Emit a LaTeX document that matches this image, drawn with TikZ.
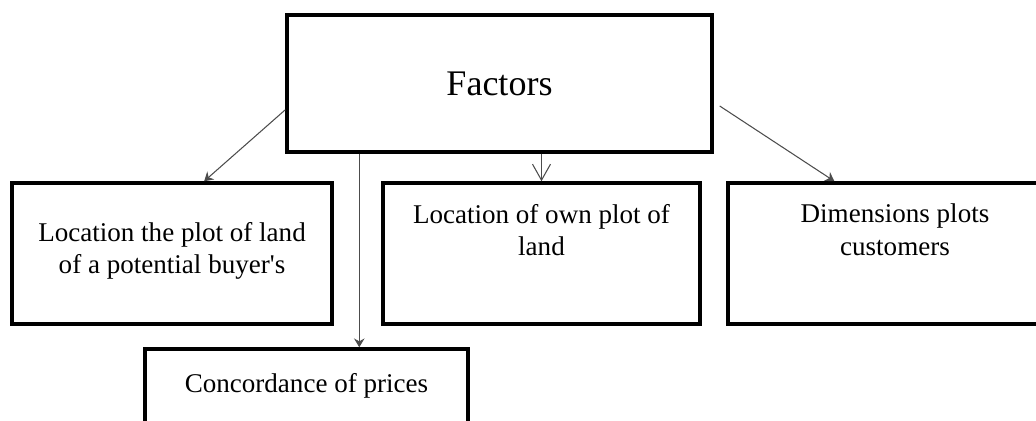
\documentclass[tikz,border=0pt]{standalone}
\usepackage{fontspec}
\setmainfont{Liberation Serif}
\usetikzlibrary{arrows.meta}
% text set at the top of a fixed box
\newcommand{\boxtext}[4]{%
  \begin{minipage}[c][#2][t]{#1}\centering\vspace*{#3}#4\end{minipage}}

\begin{document}
\begin{tikzpicture}[x=0.02cm,y=-0.02cm,>={Stealth[length=5pt,width=6pt]}]
\tikzset{
  factorbox/.style={draw,line width=2pt,minimum width=8.5cm,minimum height=2.74cm,
                    font=\fontsize{20.5}{24}\selectfont},
  itembox/.style={draw,line width=2pt,inner sep=0pt,font=\fontsize{15.4}{18.7}\selectfont},
  link/.style={->,line width=0.6pt,draw=black!70}
}
\useasboundingbox (0,0) rectangle (1036,421);
\node[factorbox] (factors) at (499.5,83.5) {Factors};
\node[itembox] (buyer) at (172,253.5)
  {\boxtext{6.4cm}{2.82cm}{0.78cm}{Location the plot of land\\of a potential buyer\textquotesingle s}};
\node[itembox] (own) at (541.5,253.5)
  {\boxtext{6.34cm}{2.82cm}{0.42cm}{Location of own plot of\\land}};
\node[itembox] (dims) at (895,253.5)
  {\boxtext{6.68cm}{2.82cm}{0.42cm}{Dimensions plots\\customers}};
\node[itembox] (prices) at (306.5,404.5)
  {\boxtext{6.46cm}{2.22cm}{0.48cm}{Concordance of prices}};
\coordinate (drop) at ([xshift=1.48cm]factors.south west);
\draw[link] (factors.187) -- (buyer.66);
\draw[link] (drop) -- (drop |- prices.north);
\draw[link,-{Straight Barb[length=0.32cm,width=0.36cm]}] (own.north |- factors.south) -- (own.north);
\draw[link] ([xshift=0.12cm]factors.-6) -- (dims.130);
\end{tikzpicture}
\end{document}
